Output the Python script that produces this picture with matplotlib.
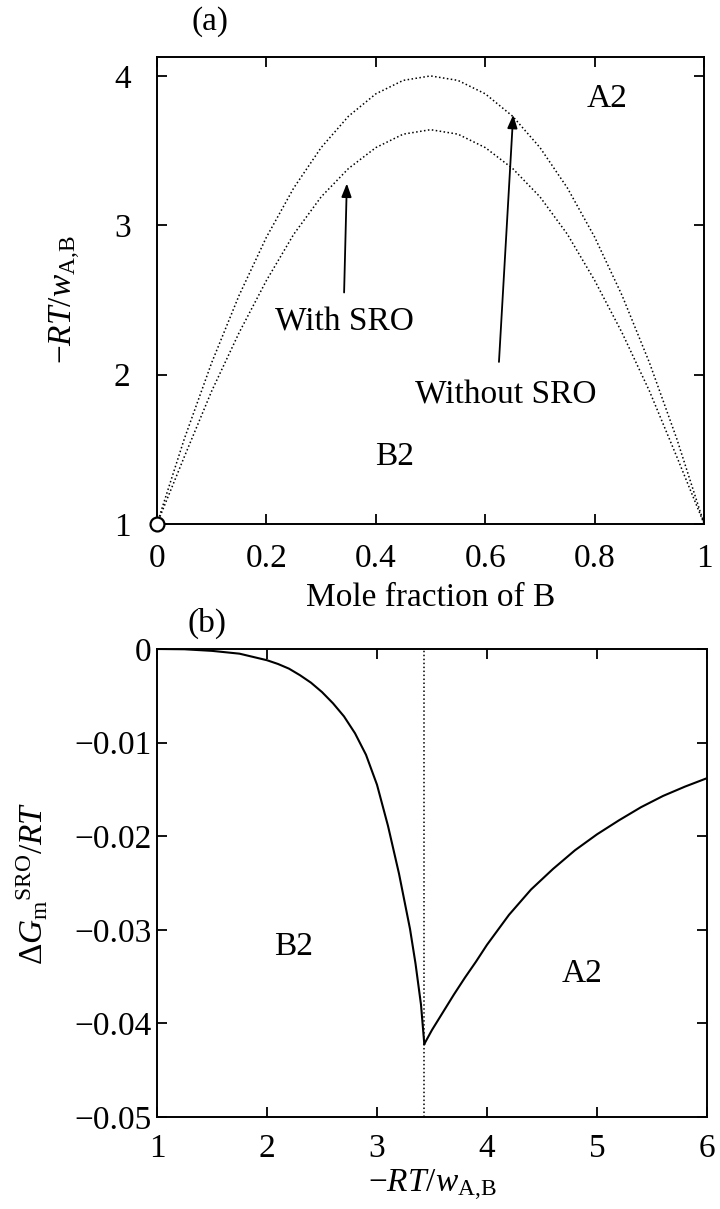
import matplotlib
matplotlib.use('Agg')
import matplotlib.pyplot as plt
from matplotlib.ticker import FuncFormatter

plt.rcParams['font.family'] = ['Liberation Serif', 'DejaVu Serif']
plt.rcParams['mathtext.fontset'] = 'custom'
plt.rcParams['mathtext.rm'] = 'Liberation Serif'
plt.rcParams['mathtext.it'] = 'Liberation Serif:italic'
plt.rcParams['mathtext.bf'] = 'Liberation Serif:bold'

# (a) order-disorder boundary, -RT/w vs mole fraction of B
x_frac = [0.0, 0.05, 0.1, 0.15, 0.2, 0.25, 0.3, 0.35, 0.4, 0.45, 0.5,
          0.55, 0.6, 0.65, 0.7, 0.75, 0.8, 0.85, 0.9, 0.95, 1.0]
t_without_sro = [1.0, 1.57, 2.08, 2.53, 2.92, 3.25, 3.52, 3.73, 3.88, 3.97, 4.00,
                 3.97, 3.88, 3.73, 3.52, 3.25, 2.92, 2.53, 2.08, 1.57, 1.0]
t_with_sro = [1.0, 1.45, 1.89, 2.28, 2.63, 2.94, 3.19, 3.38, 3.52, 3.61, 3.64,
              3.61, 3.52, 3.38, 3.19, 2.94, 2.63, 2.28, 1.89, 1.45, 1.0]

# (b) SRO contribution to Gibbs energy at x = 0.5
t_b2 = [1.0, 1.25, 1.5, 1.75, 2.0, 2.1, 2.2, 2.3, 2.4, 2.5, 2.6, 2.7, 2.8, 2.9,
        3.0, 3.1, 3.2, 3.3, 3.35, 3.4, 3.43]
dg_b2 = [0.0, -0.00003, -0.0002, -0.0005, -0.0012, -0.0016, -0.0021, -0.0028,
         -0.0036, -0.0046, -0.0058, -0.0072, -0.0090, -0.0113, -0.0145, -0.0189,
         -0.0240, -0.0299, -0.0336, -0.0380, -0.0422]
t_a2 = [3.43, 3.5, 3.6, 3.7, 3.8, 3.9, 4.0, 4.2, 4.4, 4.6, 4.8, 5.0, 5.2, 5.4,
        5.6, 5.8, 6.0]
dg_a2 = [-0.0422, -0.0407, -0.0388, -0.0369, -0.0351, -0.0334, -0.0316, -0.0284,
         -0.0257, -0.0235, -0.0215, -0.0198, -0.0183, -0.0169, -0.0157, -0.0147,
         -0.0138]
t_crit = 3.43

fs = 24
fmt = FuncFormatter(lambda v, p: ('%g' % v).replace('-', '\u2212'))

fig = plt.figure(figsize=(7.2, 12.09), dpi=100)
ax1 = fig.add_axes([0.218, 0.5666, 0.760, 0.3863])
ax2 = fig.add_axes([0.218, 0.0761, 0.764, 0.3871])

dots = (0, (1, 1.6))

# ---- panel (a)
ax1.plot(x_frac, t_without_sro, color='black', lw=1.1, ls=dots)
ax1.plot(x_frac, t_with_sro, color='black', lw=1.1, ls=dots)
ax1.plot([0], [1], 'o', mfc='white', mec='black', ms=10, mew=1.6, clip_on=False, zorder=5)
ax1.set_xlim(0, 1)
ax1.set_ylim(1, 4.127)
ax1.set_xticks([0, 0.2, 0.4, 0.6, 0.8, 1])
ax1.set_yticks([1, 2, 3, 4])
ax1.xaxis.set_major_formatter(fmt)
ax1.yaxis.set_major_formatter(fmt)
ax1.set_xlabel('Mole fraction of B', fontsize=fs, va='center')
ax1.xaxis.set_label_coords(0.5, -0.158)
ax1.set_ylabel(r'$-\mathit{RT}/\mathit{w}_{\mathrm{A{,}B}}$', fontsize=fs, va='center')
ax1.yaxis.set_label_coords(-0.168, 0.48)
ax1.tick_params(axis='x', pad=14)
ax1.tick_params(axis='y', pad=19)

arrow = dict(arrowstyle='-|>,head_length=0.8,head_width=0.3', color='black', lw=1.3,
             shrinkA=0, shrinkB=0)
ax1.annotate('', xy=(0.347, 3.28), xytext=(0.342, 2.55), arrowprops=arrow)
ax1.annotate('', xy=(0.651, 3.74), xytext=(0.625, 2.085), arrowprops=arrow)
ax1.text(0.342, 2.35, 'With SRO', fontsize=fs, ha='center', va='center')
ax1.text(0.638, 1.86, 'Without SRO', fontsize=fs, ha='center', va='center')
ax1.text(0.823, 3.85, 'A2', fontsize=fs, ha='center', va='center')
ax1.text(0.435, 1.45, 'B2', fontsize=fs, ha='center', va='center')

# ---- panel (b)
ax2.plot(t_b2, dg_b2, color='black', lw=1.5)
ax2.plot(t_a2, dg_a2, color='black', lw=1.5)
ax2.axvline(t_crit, color='black', lw=1.1, ls=dots)
ax2.set_xlim(1, 6)
ax2.set_ylim(-0.05, 0)
ax2.set_xticks([1, 2, 3, 4, 5, 6])
ax2.set_yticks([0, -0.01, -0.02, -0.03, -0.04, -0.05])
ax2.xaxis.set_major_formatter(fmt)
ax2.yaxis.set_major_formatter(fmt)
ax2.set_xlabel(r'$-\mathit{RT}/\mathit{w}_{\mathrm{A{,}B}}$', fontsize=fs, va='center')
ax2.xaxis.set_label_coords(0.5, -0.145)
ax2.set_ylabel(r'$\mathit{\Delta G}_{\mathrm{m}}{}^{\mathrm{SRO}}/\mathit{RT}$',
               fontsize=fs, va='center')
ax2.yaxis.set_label_coords(-0.227, 0.5)
ax2.tick_params(axis='x', pad=12)
ax2.tick_params(axis='y', pad=4)
ax2.text(2.24, -0.0318, 'B2', fontsize=fs, ha='center', va='center')
ax2.text(4.86, -0.0347, 'A2', fontsize=fs, ha='center', va='center')

for ax in (ax1, ax2):
    ax.tick_params(direction='in', top=True, right=True, length=7, width=1.3,
                   labelsize=fs, colors='black')
    for s in ax.spines.values():
        s.set_linewidth(1.4)

fig.text(0.292, 0.982, '(a)', fontsize=fs, ha='center', va='center')
fig.text(0.2875, 0.4847, '(b)', fontsize=fs, ha='center', va='center')

plt.savefig('out.png', dpi=100)
